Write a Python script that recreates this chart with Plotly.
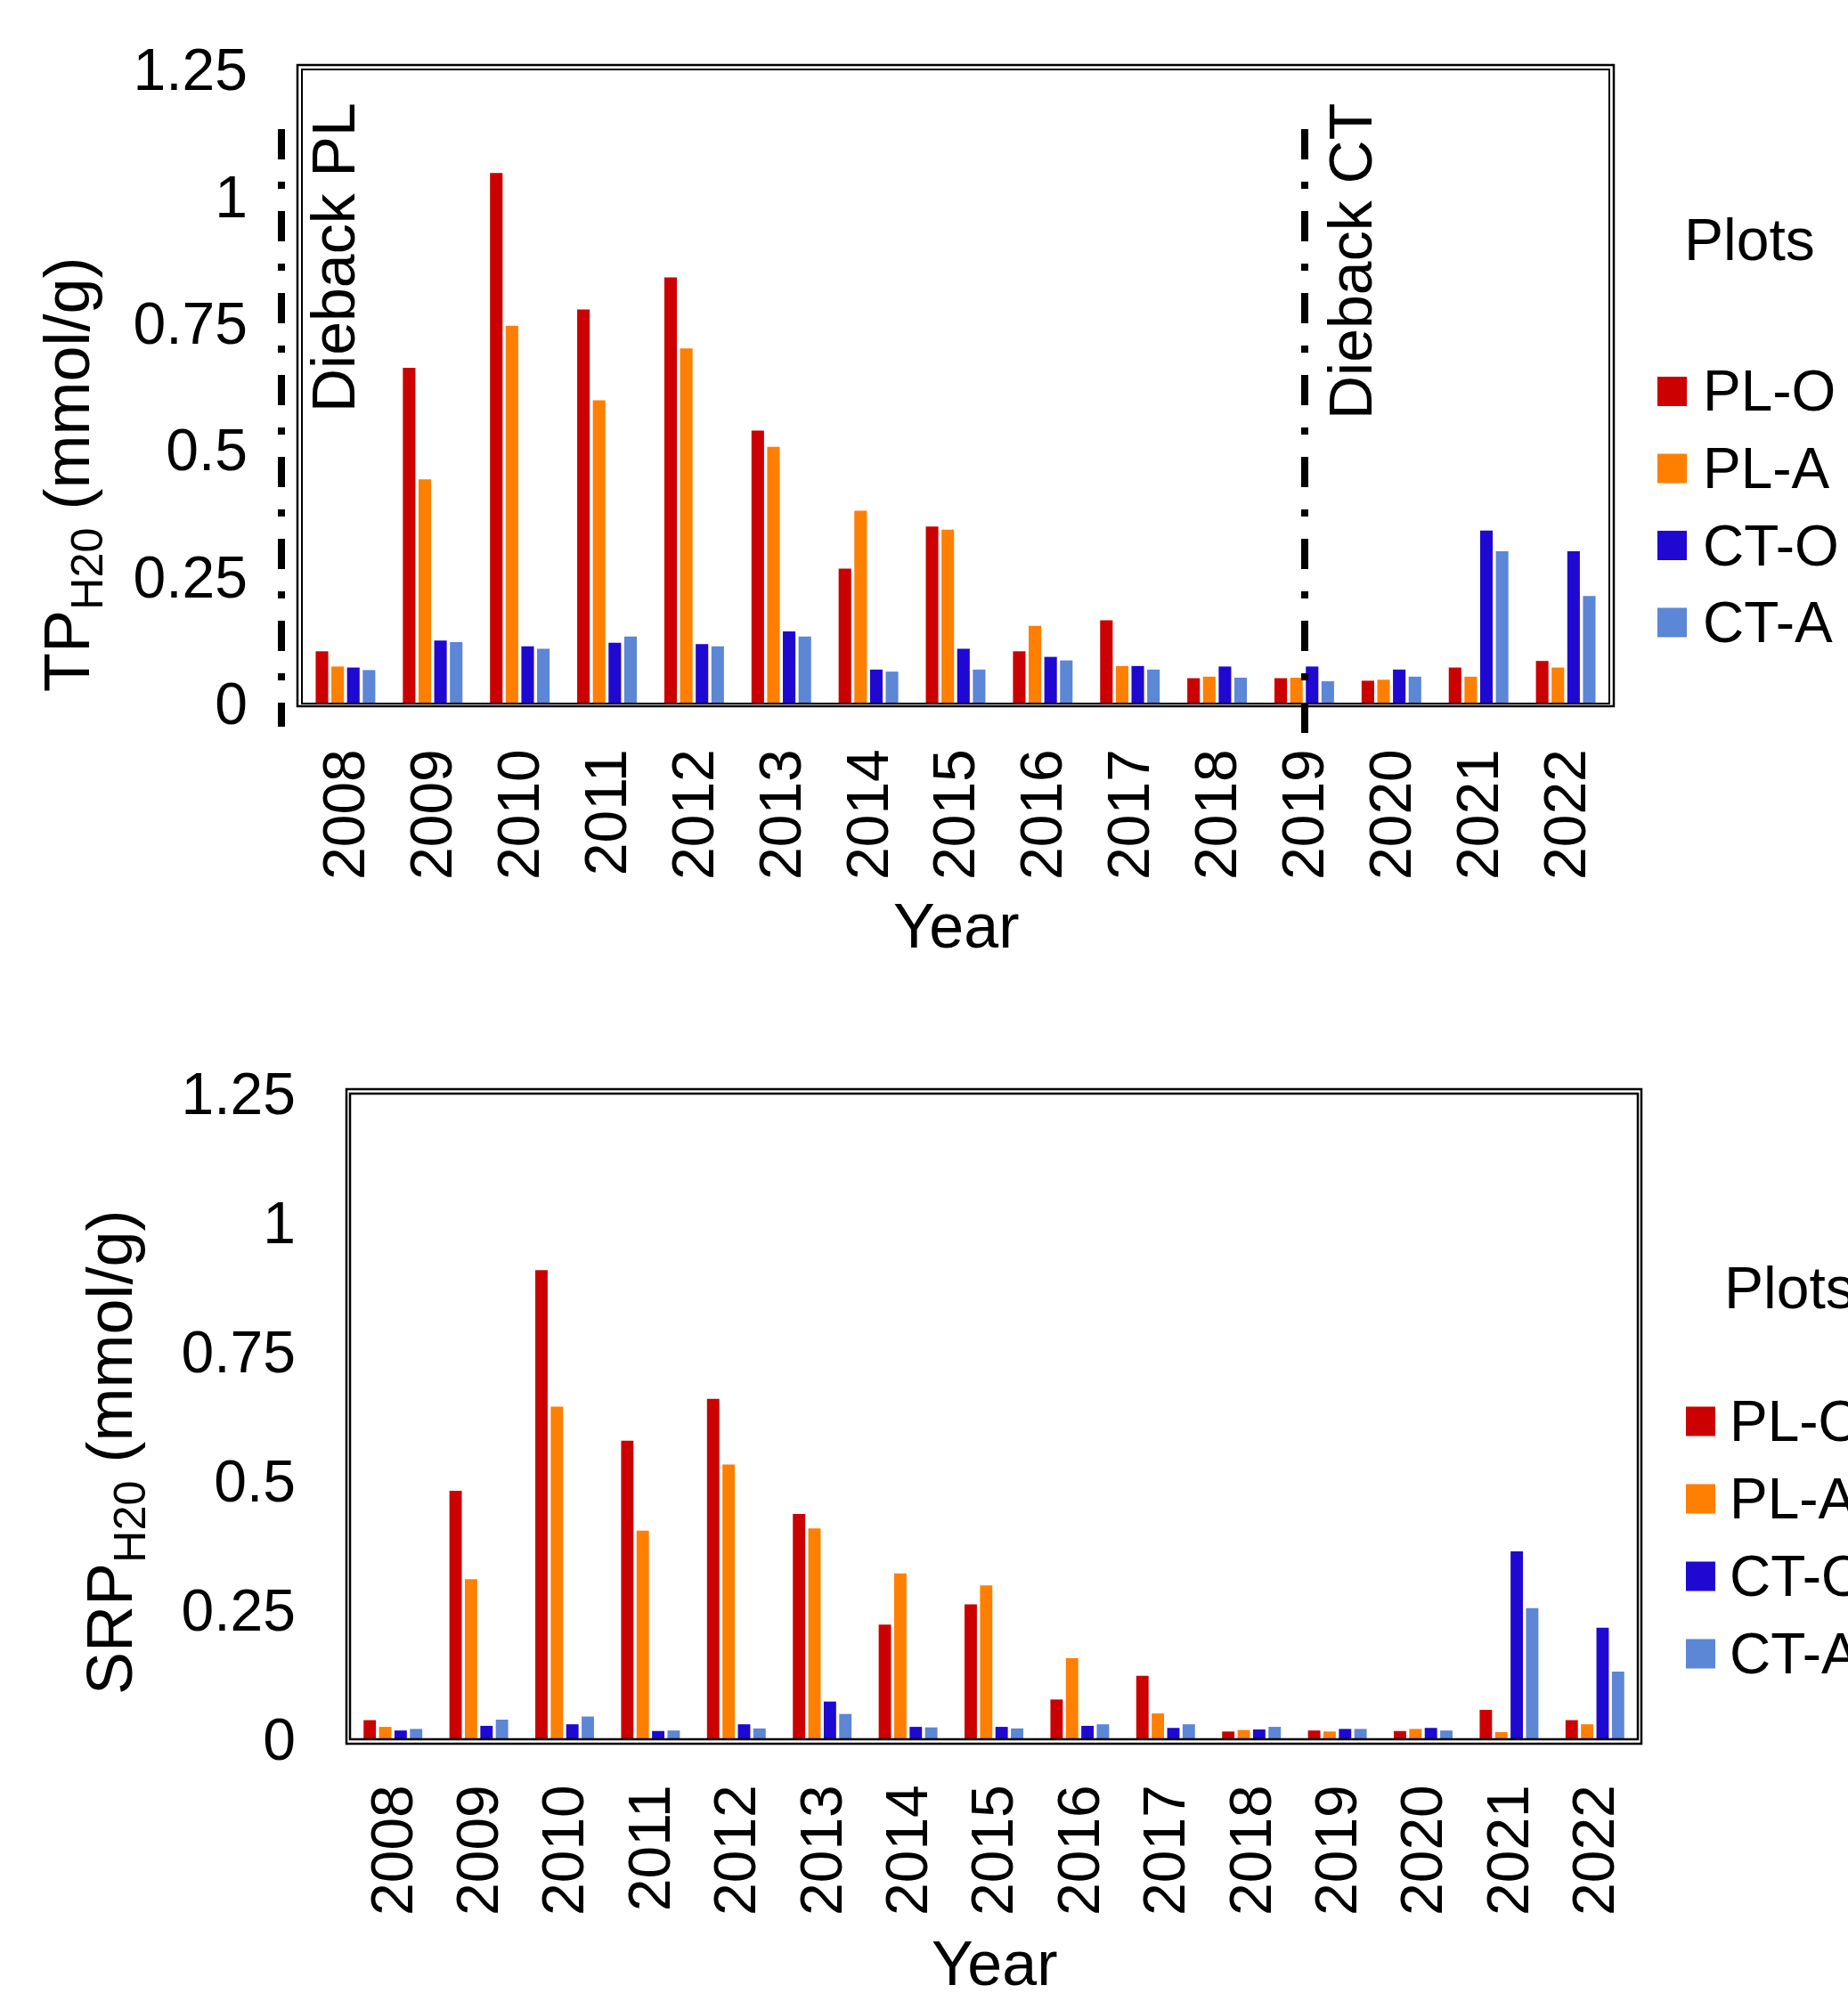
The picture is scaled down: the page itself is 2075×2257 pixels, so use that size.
import plotly.graph_objects as go

W, H = 2075, 2257
FONT = "Liberation Sans, Arial, sans-serif"

# ---------------- data ----------------
years = [str(y) for y in range(2008, 2023)]
series_names = ["PL-O", "PL-A", "CT-O", "CT-A"]
series_colors = ["#CC0000", "#FF7F00", "#1F08D2", "#5C86D6"]

tp_pl_o = [0.103, 0.662, 1.046, 0.777, 0.840, 0.538, 0.266, 0.349, 0.103, 0.164, 0.050, 0.050, 0.045, 0.071, 0.084]
tp_pl_a = [0.073, 0.442, 0.745, 0.598, 0.700, 0.506, 0.380, 0.343, 0.153, 0.074, 0.053, 0.051, 0.047, 0.053, 0.071]
tp_ct_o = [0.071, 0.124, 0.113, 0.120, 0.117, 0.142, 0.067, 0.108, 0.092, 0.074, 0.073, 0.073, 0.067, 0.341, 0.300]
tp_ct_a = [0.066, 0.121, 0.108, 0.132, 0.113, 0.132, 0.063, 0.067, 0.085, 0.067, 0.051, 0.044, 0.053, 0.300, 0.212]

srp_pl_o = [0.037, 0.481, 0.908, 0.578, 0.659, 0.436, 0.222, 0.261, 0.077, 0.123, 0.015, 0.017, 0.016, 0.057, 0.037]
srp_pl_a = [0.024, 0.310, 0.644, 0.404, 0.532, 0.408, 0.321, 0.298, 0.157, 0.050, 0.018, 0.015, 0.020, 0.014, 0.029]
srp_ct_o = [0.017, 0.026, 0.029, 0.016, 0.029, 0.073, 0.024, 0.024, 0.026, 0.022, 0.019, 0.020, 0.022, 0.364, 0.216]
srp_ct_a = [0.020, 0.038, 0.044, 0.017, 0.021, 0.049, 0.023, 0.021, 0.029, 0.029, 0.024, 0.020, 0.017, 0.254, 0.131]

y_tickvals = [0, 0.25, 0.5, 0.75, 1, 1.25]
y_ticktext = ["0", "0.25", "0.5", "0.75", "1", "1.25"]

tp_series = [tp_pl_o, tp_pl_a, tp_ct_o, tp_ct_a]
srp_series = [srp_pl_o, srp_pl_a, srp_ct_o, srp_ct_a]


def fx(px):
    return px / W


def fy(py):
    return 1 - py / H


# panel pixel boxes (inner plot area)
TOP = dict(l=339, r=1807, t=78, b=790)
BOT = dict(l=393, r=1839, t=1228, b=1953)

fig = go.Figure()
for vals, name, col in zip(tp_series, series_names, series_colors):
    fig.add_trace(go.Bar(x=years, y=vals, name=name, marker=dict(color=col, line=dict(width=0)),
                         xaxis="x", yaxis="y", showlegend=False))
for vals, name, col in zip(srp_series, series_names, series_colors):
    fig.add_trace(go.Bar(x=years, y=vals, name=name, marker=dict(color=col, line=dict(width=0)),
                         xaxis="x2", yaxis="y2", showlegend=False))

tickfont = dict(family=FONT, size=66, color="black")


def xax(box, anchor):
    return dict(domain=[fx(box["l"]), fx(box["r"])], anchor=anchor, type="category",
                tickangle=-90, ticks="", showline=False, showgrid=False, zeroline=False,
                tickfont=tickfont, ticklabelstandoff=37, fixedrange=True, automargin=False)


def yax(box, anchor):
    return dict(domain=[fy(box["b"]), fy(box["t"])], anchor=anchor, range=[0, 1.25],
                tickvals=y_tickvals, ticktext=y_ticktext, ticks="", showline=False,
                showgrid=False, zeroline=False, tickfont=tickfont, ticklabelstandoff=60,
                fixedrange=True, automargin=False)


shapes = []
annotations = []


def rect(l, t, r, b, w):
    shapes.append(dict(type="rect", xref="paper", yref="paper", x0=fx(l), x1=fx(r),
                       y0=fy(b), y1=fy(t), line=dict(color="black", width=w),
                       fillcolor="rgba(0,0,0,0)", layer="above"))


# double frames
rect(334, 73, 1812, 793, 2.5)
rect(TOP["l"], TOP["t"], TOP["r"], TOP["b"], 2)
rect(389, 1223, 1843, 1958, 2.5)
rect(BOT["l"], BOT["t"], BOT["r"], BOT["b"], 2.5)

# dieback dash-dot lines (top panel)
dash = "34px,25px,8px,25px"
for px, y1 in [(316, 816), (1465, 827)]:
    shapes.append(dict(type="line", xref="paper", yref="paper", x0=fx(px), x1=fx(px),
                       y0=fy(145), y1=fy(y1), line=dict(color="black", width=8, dash=dash),
                       layer="above"))


def text(s, x, y, size, xanchor="center", yanchor="middle", angle=0):
    annotations.append(dict(text=s, x=fx(x), y=fy(y), xref="paper", yref="paper",
                            xanchor=xanchor, yanchor=yanchor, showarrow=False,
                            textangle=angle, font=dict(family=FONT, size=size, color="black")))


text("Dieback PL", 374, 289, 68, angle=-90)
text("Dieback CT", 1516, 294, 68, angle=-90)

# axis titles
text("TP<sub>H20</sub> (mmol/g)", 81, 533, 72, angle=-90)
text("SRP<sub>H20</sub> (mmol/g)", 128, 1631, 72, angle=-90)
text("Year", (TOP["l"] + TOP["r"]) / 2, 1040, 70)
text("Year", (BOT["l"] + BOT["r"]) / 2, 2205, 70)

# legends (manual, large squares)
for (sq_l, txt_l, c0, step, title_x, title_y) in [
    (1861, 1910, 439.5, 86.5, 1889, 269),
    (1893, 1940, 1596, 87, 1934, 1446),
]:
    text("Plots", title_x, title_y, 66, xanchor="left")
    for i, (name, col) in enumerate(zip(series_names, series_colors)):
        cy = c0 + i * step
        shapes.append(dict(type="rect", xref="paper", yref="paper", x0=fx(sq_l), x1=fx(sq_l + 33),
                           y0=fy(cy + 16.5), y1=fy(cy - 16.5), line=dict(width=0), fillcolor=col))
        text(name, txt_l, cy, 64, xanchor="left")

fig.update_layout(
    width=W, height=H, autosize=False,
    margin=dict(l=0, r=0, t=0, b=0, pad=0, autoexpand=False),
    paper_bgcolor="white", plot_bgcolor="white",
    barmode="group", bargap=0.28, bargroupgap=0.2,
    xaxis=xax(TOP, "y"), yaxis=yax(TOP, "x"),
    xaxis2=xax(BOT, "y2"), yaxis2=yax(BOT, "x2"),
    shapes=shapes, annotations=annotations,
    font=dict(family=FONT, color="black"),
    showlegend=False,
)

fig.write_html("out.html", config={"displayModeBar": False},
               post_script="document.body.style.margin='0';document.body.style.overflow='hidden';")
